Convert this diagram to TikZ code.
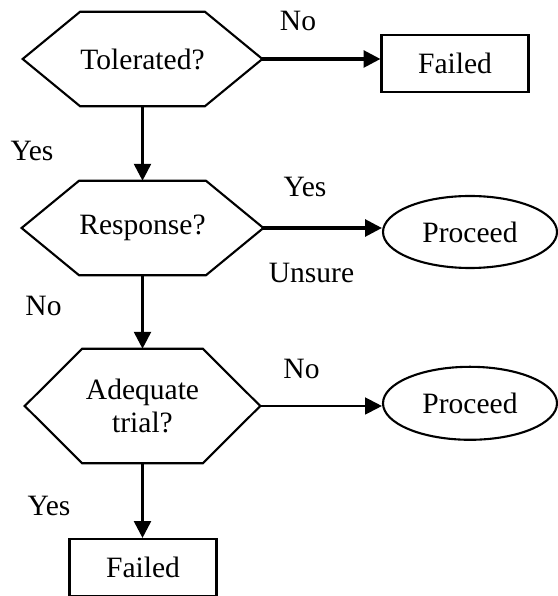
\documentclass[tikz,border=0pt]{standalone}
\usepackage{fontspec}
\setmainfont{Liberation Serif}
\usetikzlibrary{shapes.geometric,arrows.meta}
\tikzset{
  hexcore/.style={minimum width=3cm, minimum height=2.35cm, inner sep=0pt, align=center},
  outline/.style={line width=1.5pt, line join=miter},
  outbox/.style={draw, line width=1.5pt, minimum width=3.675cm, minimum height=1.425cm, inner sep=0pt},
  outoval/.style={draw, ellipse, line width=1.5pt, minimum width=4.35cm, minimum height=1.8cm, inner sep=0pt},
  flow/.style={-{Triangle[length=12pt,width=12pt]}, line width=2.2pt},
  answer/.style={inner sep=0pt}
}
\begin{document}
\begin{tikzpicture}[font=\fontsize{21}{24}\selectfont]
\useasboundingbox (0,0) rectangle (13.95,14.9);
\node [hexcore] (tol) at (3.5625, 13.425) {Tolerated?};
\node [hexcore] (resp) at (3.5625, 9.2) {Response?};
\node [hexcore, minimum height=2.85cm] (adeq) at (3.5625, 4.75) {Adequate\\trial?};
\foreach \n in {tol,resp,adeq} {
  \coordinate (\n L) at ([xshift=-1.4375cm]\n.west);
  \coordinate (\n R) at ([xshift=1.4375cm]\n.east);
  \draw [outline] (\n L) -- (\n.north west) -- (\n.north east) -- (\n R) -- (\n.south east) -- (\n.south west) -- cycle;
}
\node [outbox] (failA) at (11.375, 13.3175) {Failed};
\node [outoval] (procA) at (11.75, 9.1) {Proceed};
\node [outoval, minimum height=1.825cm] (procB) at (11.75, 4.8175) {Proceed};
\node [outbox] (failB) at (3.575, 0.7125) {Failed};
\node [answer] (noA) at (7.45, 14.375) {No};
\node [answer] (yesA) at (0.8, 11.1375) {Yes};
\node [answer] (yesB) at (7.625, 10.225) {Yes};
\node [answer] (unsure) at (7.7875, 8.075) {Unsure};
\node [answer] (noB) at (1.0875, 7.25) {No};
\node [answer] (noC) at (7.5375, 5.675) {No};
\node [answer] (yesC) at (1.225, 2.25) {Yes};
\draw [flow] (tolR) -- (tolR -| failA.west);
\draw [flow] (respR) -- (respR -| procA.west);
\draw [flow, line width=1.5pt] (adeqR) -- (adeqR -| procB.west);
\draw [flow, line width=2pt] (tol.south) -- (resp.north);
\draw [flow, line width=2pt] (resp.south) -- (adeq.north);
\draw [flow, line width=2pt] (adeq.south) -- (adeq.south |- failB.north);
\end{tikzpicture}
\end{document}
